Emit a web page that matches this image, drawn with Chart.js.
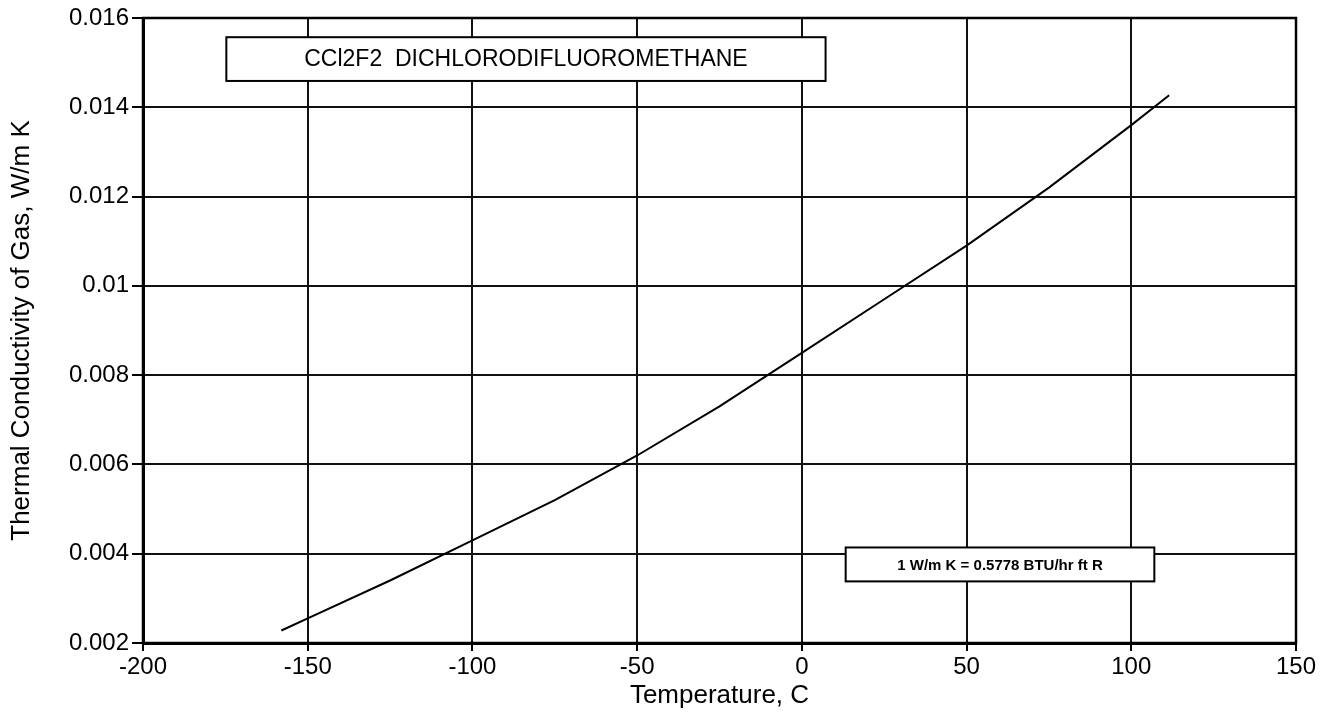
<!DOCTYPE html>
<html lang="en">
<head>
  <meta charset="UTF-8">
  <title>CCl2F2 thermal conductivity</title>
  <script src="https://cdn.jsdelivr.net/npm/chart.js@4.4.0/dist/chart.umd.min.js"></script>
  <style>
    html, body { margin: 0; padding: 0; background: #fff; }
    #wrap { width: 1323px; height: 725px; position: relative; }
  </style>
</head>
<body>
  <div id="wrap"><canvas id="myChart"></canvas></div>

<script>
  // temperature, C
  var temps = [-158, -150, -125, -100, -75, -50, -25, 0, 25, 50, 75, 100, 111.5];
  // thermal conductivity of gas, W/m K
  var conductivity = [0.00228, 0.00255, 0.0034, 0.0043, 0.0052, 0.0062, 0.0073, 0.0085, 0.0097, 0.0109, 0.0122, 0.0136, 0.01427];

  var xTicks = [-200, -150, -100, -50, 0, 50, 100, 150];
  var yTicks = [0.002, 0.004, 0.006, 0.008, 0.01, 0.012, 0.014, 0.016];

  var FONT = "'Liberation Sans', Arial, Helvetica, sans-serif";

  var points = [];
  for (var i = 0; i < temps.length; i++) {
    points.push({ x: temps[i], y: conductivity[i] });
  }

  /* disegna la cornice e le due etichette nel riquadro */
  var boxesPlugin = {
    id: 'boxes',
    afterDatasetsDraw: function (chart) {
      var ctx = chart.ctx;
      var xs = chart.scales.x, ys = chart.scales.y;
      var a = chart.chartArea;

      ctx.save();
      ctx.strokeStyle = '#000';
      ctx.lineWidth = 2.5;
      ctx.strokeRect(a.left, a.top, a.right - a.left, a.bottom - a.top);

      var boxes = [
        { x0: -174.7, x1: 7.2, y0: 0.01557, y1: 0.01459, text: 'CCl2F2  DICHLORODIFLUOROMETHANE', font: '23px ' + FONT },
        { x0: 13.3, x1: 107, y0: 0.00414, y1: 0.00338, text: '1 W/m K = 0.5778 BTU/hr ft R', font: 'bold 15px ' + FONT }
      ];
      boxes.forEach(function (b) {
        var l = xs.getPixelForValue(b.x0), r = xs.getPixelForValue(b.x1);
        var t = ys.getPixelForValue(b.y0), bt = ys.getPixelForValue(b.y1);
        ctx.fillStyle = '#fff';
        ctx.fillRect(l, t, r - l, bt - t);
        ctx.lineWidth = 2;
        ctx.strokeStyle = '#000';
        ctx.strokeRect(l, t, r - l, bt - t);
        ctx.fillStyle = '#000';
        ctx.font = b.font;
        ctx.textAlign = 'center';
        ctx.textBaseline = 'middle';
        ctx.fillText(b.text, (l + r) / 2, (t + bt) / 2 + 1);
      });
      ctx.restore();
    }
  };

  var ctx = document.getElementById('myChart').getContext('2d');
  var myChart = new Chart(ctx, {
    type: 'scatter',
    data: {
      datasets: [{
        data: points,
        showLine: true,
        borderColor: '#000',
        borderWidth: 2,
        pointRadius: 0,
        tension: 0
      }]
    },
    options: {
      responsive: true,
      maintainAspectRatio: false,
      animation: false,
      layout: { padding: { left: 0, right: 27, top: 18, bottom: 0 } },
      plugins: {
        legend: { display: false },
        tooltip: { enabled: false }
      },
      scales: {
        x: {
          type: 'linear',
          min: -200,
          max: 150,
          afterBuildTicks: function (scale) {
            scale.ticks = xTicks.map(function (v) { return { value: v }; });
          },
          afterFit: function (scale) { scale.height = 82; },
          grid: { color: '#111', lineWidth: 2, tickLength: 8, tickColor: '#000', tickWidth: 2 },
          border: { color: '#000', width: 3 },
          ticks: {
            color: '#000',
            padding: 2,
            font: { family: FONT, size: 24 },
            callback: function (v) { return String(v); }
          },
          title: {
            display: true,
            text: 'Temperature, C',
            color: '#000',
            font: { family: FONT, size: 26 },
            padding: { top: 0, bottom: 14 }
          }
        },
        y: {
          type: 'linear',
          min: 0.002,
          max: 0.016,
          afterBuildTicks: function (scale) {
            scale.ticks = yTicks.map(function (v) { return { value: v }; });
          },
          afterFit: function (scale) { scale.width = 143; },
          grid: { color: '#111', lineWidth: 2, tickLength: 11, tickColor: '#000', tickWidth: 2 },
          border: { color: '#000', width: 3 },
          ticks: {
            color: '#000',
            padding: 3,
            font: { family: FONT, size: 24 },
            callback: function (v) { return String(+v.toFixed(3)); }
          },
          title: {
            display: true,
            text: 'Thermal Conductivity of Gas, W/m K',
            color: '#000',
            font: { family: FONT, size: 26 },
            padding: { top: 6, bottom: 0 }
          }
        }
      }
    },
    plugins: [boxesPlugin]
  });
</script>
</body>
</html>
